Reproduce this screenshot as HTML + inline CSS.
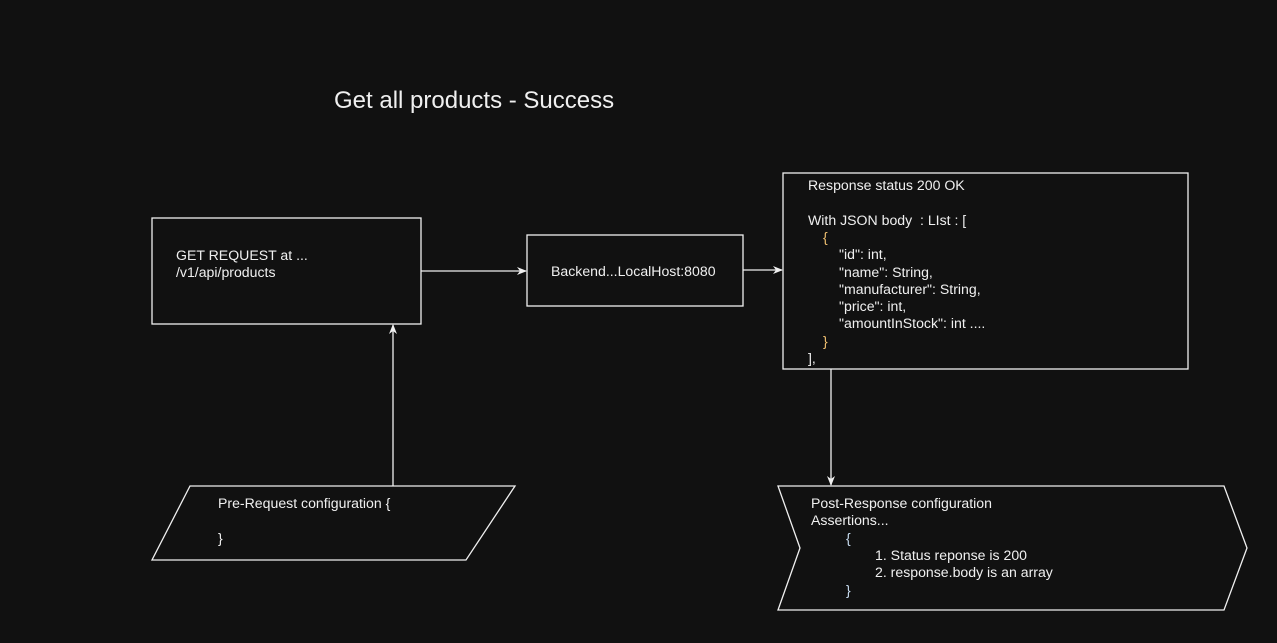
<!DOCTYPE html>
<html><head><meta charset="utf-8"><style>
html,body{margin:0;padding:0;background:#111111;}
svg{display:block;}
text{font-family:"Liberation Sans",Arial,sans-serif;fill:#f0f0f0;font-size:14.1px;}
</style></head><body>
<svg width="1277" height="643" viewBox="0 0 1277 643" xmlns="http://www.w3.org/2000/svg">
<defs><marker id="a" markerWidth="10" markerHeight="10" refX="9" refY="5" orient="auto" markerUnits="userSpaceOnUse"><path d="M0,1 L10,5 L0,9 L3,5 Z" fill="#f0f0f0"/></marker></defs>
<rect width="1277" height="643" fill="#111111"/>
<text x="334" y="108" style="font-size:24px">Get all products - Success</text>
<g fill="none" stroke="#f0f0f0" stroke-width="1.3">
<rect x="152" y="218" width="269" height="106"/>
<rect x="527" y="235" width="216" height="71"/>
<rect x="783" y="173" width="405" height="196"/>
<polygon points="190,486 515,486 466,560 152,560"/>
<polygon points="778,486 1224,486 1247,548 1224,610 778,610 800,548"/>
<line x1="421" y1="271" x2="526" y2="271" marker-end="url(#a)"/>
<line x1="743" y1="270" x2="782" y2="270" marker-end="url(#a)"/>
<line x1="393" y1="486" x2="393" y2="325" marker-end="url(#a)"/>
<line x1="831" y1="369" x2="831" y2="485" marker-end="url(#a)"/>
</g>
<text x="176" y="260">GET REQUEST at ...</text>
<text x="176" y="277">/v1/api/products</text>
<text x="551" y="276">Backend...LocalHost:8080</text>
<text x="808" y="190">Response status 200 OK</text>
<text x="808" y="225">With JSON body&#160;&#160;: LIst : [</text>
<text x="823" y="242" style="fill:#f0c070">{</text>
<text x="839" y="259">"id": int,</text>
<text x="839" y="277">"name": String,</text>
<text x="839" y="294">"manufacturer": String,</text>
<text x="839" y="311">"price": int,</text>
<text x="839" y="328">"amountInStock": int ....</text>
<text x="823" y="346" style="fill:#f0c070">}</text>
<text x="808" y="363">],</text>
<text x="218" y="508">Pre-Request configuration {</text>
<text x="218" y="543">}</text>
<text x="811" y="508">Post-Response configuration</text>
<text x="811" y="525">Assertions...</text>
<text x="846" y="543" style="fill:#c8dcf0">{</text>
<text x="875" y="560">1. Status reponse is 200</text>
<text x="875" y="577">2. response.body is an array</text>
<text x="846" y="595" style="fill:#c8dcf0">}</text>
</svg>
</body></html>
